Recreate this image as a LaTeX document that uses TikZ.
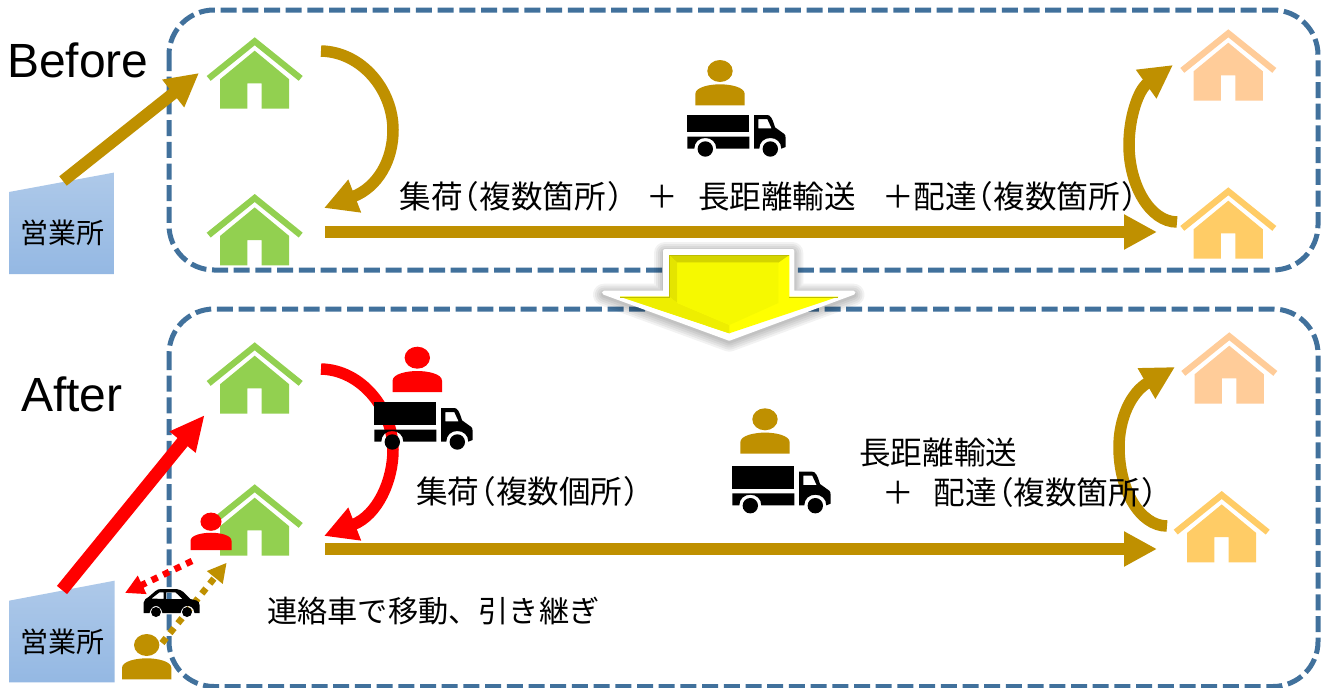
\documentclass[tikz,border=0pt]{standalone}
\usepackage{fontspec}
\setmainfont{Liberation Sans}
\newfontfamily\cjk{Noto Sans CJK JP}
\usetikzlibrary{arrows.meta}
\definecolor{gold}{HTML}{BF9000}
\definecolor{dashblue}{HTML}{41719C}
\definecolor{housegreen}{HTML}{92D050}
\definecolor{paleorange}{HTML}{FFCC99}
\definecolor{warmorange}{HTML}{FFCC66}
\definecolor{boxtop}{HTML}{AEC9E9}
\definecolor{boxbot}{HTML}{94B8E3}
\definecolor{arrowlight}{HTML}{FFFF00}
\definecolor{arrowface}{HTML}{F6F900}
\definecolor{arrowtop}{HTML}{D4D400}
\definecolor{arrowleft}{HTML}{E4E400}
\definecolor{arrowlow}{HTML}{EEEE00}
\definecolor{arrowline}{HTML}{BDBD00}
\newcommand{\opn}{\kern-15pt（}
\newcommand{\cls}{\kern2pt）}
\tikzset{
  x=1pt,y=-1pt,
  areabox/.style={draw=dashblue,line width=5pt,rounded corners=45pt,dash pattern=on 16pt off 5.7pt},
  flow/.style={draw=#1,line width=11.5pt,-{Triangle[length=33pt,width=33pt]}},
  dots/.style={draw=#1,line width=6.5pt,dash pattern=on 6.5pt off 6.2pt,-{Triangle[length=19pt,width=19pt]}},
  title/.style={inner sep=0pt,anchor=west,font=\fontsize{48}{50}\selectfont},
  jp/.style={inner sep=0pt,anchor=west,font=\cjk\fontsize{31.6}{36}\selectfont,align=left},
  jpsmall/.style={inner sep=0pt,anchor=west,font=\cjk\fontsize{30.2}{36}\selectfont},
  office/.style={inner sep=0pt,font=\cjk\fontsize{28}{30}\selectfont},
  pics/house/.style={code={
    \fill[#1] (0,0) -- (48,38.7) -- (44,43.5) -- (0,8) -- (-44,43.5) -- (-48,38.7) -- cycle;
    \fill[#1] (0,13.4) -- (34.5,42) -- (34.5,71.4) -- (7,71.4) -- (7,46) -- (-7.4,46) -- (-7.4,71.4) -- (-34.7,71.4) -- (-34.7,42) -- cycle;
  }},
  pics/person/.style={code={
    \fill[#1] (0,0) ellipse [x radius=12.7pt,y radius=11pt];
    \fill[#1] (-24.7,34.3) -- (-24.7,23) .. controls (-24.7,16) and (-10,13.3) .. (0,13.3)
      .. controls (10,13.3) and (24.7,16) .. (24.7,23) -- (24.7,34.3) -- cycle;
  }},
  pics/lorry/.style={code={
    \fill[black] (0,0) rectangle (62,17.3+#1);
    \begin{scope}[shift={(0,#1)}]
    \fill[black] (0,21.7) -- (62,21.7) -- (62,33.7) -- (29,33.7) .. controls (29,27) and (24,23) .. (18,23)
       .. controls (12,23) and (7,27) .. (7,33.7) -- (0,33.7) -- cycle;
    \fill[black,even odd rule] (66.7,0) -- (80,0) .. controls (83,0) and (85,3) .. (87.7,12.3) -- (97,19) .. controls (98,20) and (98.3,21) .. (98.3,23) -- (98.3,32) -- (94,33.7)
       .. controls (94,27) and (89,23) .. (83,23) .. controls (77,23) and (72,27) .. (72,33.7) -- (66.7,33.7) -- cycle
       (71,4) -- (80,4) -- (84.3,13.3) -- (71,13.3) -- cycle;
    \fill[black] (18,34) circle [radius=7.7pt];
    \fill[black] (83,34) circle [radius=7.7pt];
    \end{scope}
  }},
  pics/auto/.style={code={
    \fill[black,even odd rule] (0,14) .. controls (0,11) and (3,9) .. (5,8) -- (12,2) .. controls (14,0.5) and (15,0) .. (18,0) -- (33,0) .. controls (36,0) and (38,2) .. (40,3)
      -- (47,10) -- (53,11.5) .. controls (55,12) and (56,14) .. (56,16) -- (56,24) -- (51,24) .. controls (50,18) and (47,17) .. (43.5,17) .. controls (40,17) and (38,20) .. (37,24)
      -- (19,24) .. controls (18,20) and (16,17) .. (12.5,17) .. controls (9,17) and (7,20) .. (6,24) -- (0,24) -- cycle
      (8,9.5) -- (16,3.3) -- (20,3.3) -- (20,10) -- cycle
      (22.5,3.3) -- (32,3.3) -- (39,10) -- (22.5,10) -- cycle;
    \fill[black] (12.5,23) circle [radius=5pt];
    \fill[black] (43.5,23) circle [radius=5pt];
  }},
}
\begin{document}
\begin{tikzpicture}
\path[use as bounding box] (0,0) rectangle (1328,688);
\fill[white] (0,0) rectangle (1328,688);

% areas
\draw[areabox] (169,10) rectangle (1318,270);
\draw[areabox] (169,309) rectangle (1318,686.5);

% big arrow between the areas
\foreach \w in {22,18,14,10,6}{
  \draw[line width=\w pt,line join=round,draw=black,opacity=.05]
    (665,253) -- (792.3,253) -- (792.3,294.7) -- (853.5,294.7) -- (729.3,340.7) -- (604,294.7) -- (665,294.7) -- cycle;
}
\fill[white,draw=white,line width=4pt,line join=round]
    (665,251) -- (792.3,251) -- (792.3,292.7) -- (853.5,292.7) -- (729.3,338.7) -- (604,292.7) -- (665,292.7) -- cycle;
\fill[arrowlight] (669.3,255) -- (789.3,255) -- (789.3,296.7) -- (838.3,296.7) -- (729.3,333.3) -- (620,296.7) -- (669.3,296.7) -- cycle;
\fill[arrowtop] (669.3,255) -- (789.3,255) -- (778.3,262.7) -- (677.3,262.7) -- cycle;
\fill[arrowleft] (669.3,255) -- (677.3,262.7) -- (677.3,303) -- (669.3,296.7) -- cycle;
\fill[arrowlow] (620,296.7) -- (669.3,296.7) -- (677.3,303) -- (729.3,325) -- (729.3,333.3) -- cycle;
\fill[arrowface] (677.3,262.7) -- (778.3,262.7) -- (778.3,303) -- (729.3,325) -- (677.3,303) -- cycle;
\draw[arrowline,line width=.8pt] (620,297) -- (669.3,297) -- (669.3,255) -- (789.3,255);
\draw[arrowline,line width=.8pt] (789.3,297) -- (838,297);

% houses
\pic at (254.7,37.3) {house=housegreen};
\pic at (254.7,194) {house=housegreen};
\pic at (1228.3,29.3) {house=paleorange};
\pic at (1228.3,187.3) {house=warmorange};
\pic at (254.7,342.3) {house=housegreen};
\pic at (254.7,484.3) {house=housegreen};
\pic at (1229.3,332.3) {house=paleorange};
\pic at (1221.7,491) {house=warmorange};

% offices
\shade[top color=boxtop,bottom color=boxbot] (9,192) -- (114.5,172.5) -- (114.5,274) -- (9,274) -- cycle;
\shade[top color=boxtop,bottom color=boxbot] (9,600.7) -- (114.5,580.7) -- (114.5,682.3) -- (9,682.3) -- cycle;
\node[office] (officeAtext) at (62,233) {営業所};
\node[office] (officeBtext) at (62,642) {営業所};

% free ends of connectors
\coordinate (a1) at (63,181); \coordinate (a2) at (199,73);
\coordinate (b1) at (321,51); \coordinate (b2) at (324,208);
\coordinate (c1) at (325,232); \coordinate (c2) at (1157,232);
\coordinate (d1) at (1177,222); \coordinate (d2) at (1173,65);
\coordinate (e1) at (62,590); \coordinate (e2) at (204.7,415);
\coordinate (f1) at (321,369); \coordinate (f2) at (324,536);
\coordinate (g1) at (325,549); \coordinate (g2) at (1157,549);
\coordinate (h1) at (1167,526); \coordinate (h2) at (1175,367);
\coordinate (i1) at (192,561); \coordinate (i2) at (125,593);
\coordinate (j1) at (162,643); \coordinate (j2) at (226.7,562.7);

% before connectors
\draw[flow=gold,line width=12pt] (a1) -- (a2);
\draw[flow=gold] (b1) .. controls (362,52) and (393,90) .. (393,130) .. controls (393,160) and (378,187) .. (b2);
\draw[flow=gold] (c1) -- (c2);
\draw[flow=gold] (d1) .. controls (1150,222) and (1129,185) .. (1129,145) .. controls (1129,118) and (1138,90) .. (d2);

% after connectors
\draw[flow=red,line width=13pt,-{Triangle[length=35pt,width=31pt]}] (e1) -- (e2);
\draw[flow=red] (f1) .. controls (362,370) and (393,410) .. (393,450) .. controls (393,480) and (378,515) .. (f2);
\draw[flow=gold] (g1) -- (g2);
\draw[flow=gold] (h1) .. controls (1140,526) and (1119,490) .. (1119,447) .. controls (1119,420) and (1130,393) .. (h2);
\draw[dots=red] (i1) -- (i2);
\draw[dots=gold] (j1) -- (j2);

% persons and vehicles
\pic at (720,71) {person=gold};
\pic at (687.3,115) {lorry=0};
\pic at (417.3,357.7) {person=red};
\pic at (374.3,402) {lorry=6};
\pic at (765,419.3) {person=gold};
\pic at (732.3,465.7) {lorry=6};
\pic[scale=.83] at (211,521.7) {person=red};
\pic at (146.7,645) {person=gold};
\pic at (143.5,589) {auto};

% titles and labels
\node[title] (before) at (7,60.5) {Before};
\node[title] (after) at (21,394) {After};
\node[jp] (lineA) at (399.5,196.5) {集荷\opn 複数箇所\cls\hspace{7pt}＋\hspace{20pt}長距離輸送\hspace{26pt}＋配達\opn 複数箇所\cls};
\node[jp] (lineB) at (416,491) {集荷\opn 複数個所\kern1pt）};
\node[jp] (lineC) at (859,453) {長距離輸送};
\node[jp] (lineD) at (882,492) {＋\hspace{20pt}配達\opn 複数箇所\cls};
\node[jpsmall] (lineE) at (267,611) {連絡車で移動、引き継ぎ};
\end{tikzpicture}
\end{document}
